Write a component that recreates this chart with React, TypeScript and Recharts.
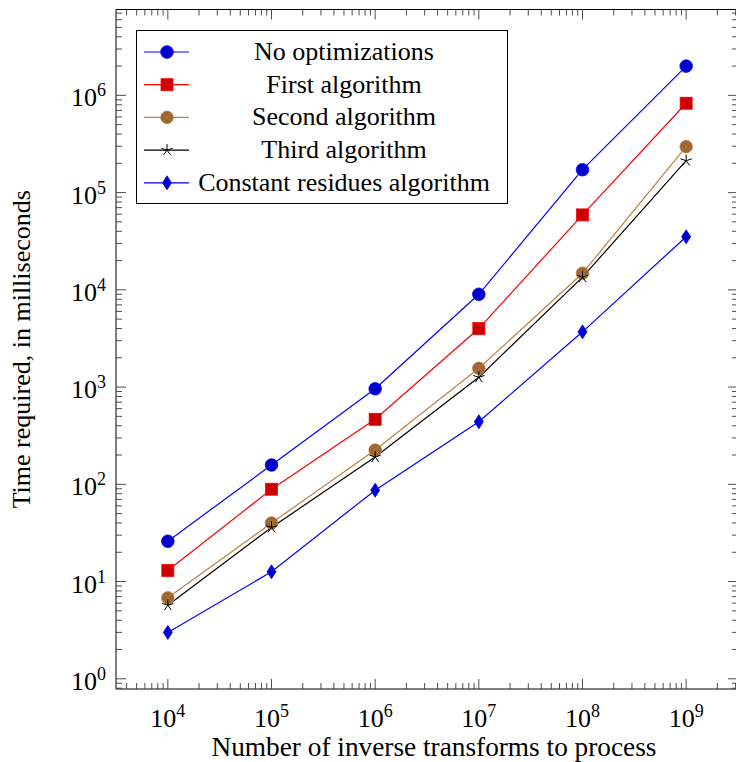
import React from 'react';
import { LineChart, Line, XAxis, YAxis } from 'recharts';

// transforms processed (x) and time in ms for each variant (y)
const transforms = [1e4, 1e5, 1e6, 1e7, 1e8, 1e9];
const noOptimizations = [26, 158, 960, 9000, 172000, 2000000];
const firstAlgorithm = [13, 89, 466, 4000, 59000, 830000];
const secondAlgorithm = [6.8, 40, 225, 1560, 14800, 297000];
const thirdAlgorithm = [5.7, 36, 191, 1260, 13500, 213000];
const constantResidues = [3, 12.6, 87, 440, 3700, 35200];

const xMajorTicks = [1e4, 1e5, 1e6, 1e7, 1e8, 1e9];
const yMajorTicks = [1, 10, 100, 1e3, 1e4, 1e5, 1e6];

const X_DOMAIN: [number, number] = [Math.pow(10, 3.5), Math.pow(10, 9.5)];
const Y_DOMAIN: [number, number] = [Math.pow(10, -0.105), Math.pow(10, 6.883)];

const FONT = "'Liberation Serif', 'Times New Roman', serif";
const TICK_COLOR = '#3a3a3a';

const series = [
  { key: 'noOpt', name: 'No optimizations', values: noOptimizations, line: '#0000ff', shape: 'circle' },
  { key: 'first', name: 'First algorithm', values: firstAlgorithm, line: '#ff0000', shape: 'square' },
  { key: 'second', name: 'Second algorithm', values: secondAlgorithm, line: '#bf8040', shape: 'otimes' },
  { key: 'third', name: 'Third algorithm', values: thirdAlgorithm, line: '#000000', shape: 'star' },
  { key: 'residues', name: 'Constant residues algorithm', values: constantResidues, line: '#0000ff', shape: 'diamond' },
];

const data = transforms.map((x, i) => {
  const row: Record<string, number> = { x };
  series.forEach((s) => (row[s.key] = s.values[i]));
  return row;
});

// minor ticks at 2..9 x 10^n inside a domain
function withMinor(domain: [number, number], majors: number[]) {
  const out: number[] = [...majors];
  const lo = Math.floor(Math.log10(domain[0]));
  const hi = Math.ceil(Math.log10(domain[1]));
  for (let d = lo; d <= hi; d++) {
    for (let m = 2; m <= 9; m++) {
      const v = m * Math.pow(10, d);
      if (v >= domain[0] && v <= domain[1]) out.push(v);
    }
  }
  return out.sort((a, b) => a - b);
}

const xTicks = withMinor(X_DOMAIN, xMajorTicks);
const yTicks = withMinor(Y_DOMAIN, yMajorTicks);

const isMajor = (v: number) => {
  const l = Math.log10(v);
  return Math.abs(l - Math.round(l)) < 1e-9;
};

function Marker({ shape, cx, cy }: { shape: string; cx: number; cy: number }) {
  switch (shape) {
    case 'circle':
      return <circle cx={cx} cy={cy} r={6.3} fill="#0000cc" stroke="#0000ff" strokeWidth={0.8} />;
    case 'square':
      return <rect x={cx - 6} y={cy - 6} width={12} height={12} fill="#cc0000" stroke="#ff0000" strokeWidth={0.8} />;
    case 'otimes':
      return (
        <g>
          <circle cx={cx} cy={cy} r={6.3} fill="#996633" stroke="#bf8040" strokeWidth={0.8} />
          <line x1={cx - 4.3} y1={cy - 4.3} x2={cx + 4.3} y2={cy + 4.3} stroke="#bf8040" strokeWidth={0.7} />
          <line x1={cx - 4.3} y1={cy + 4.3} x2={cx + 4.3} y2={cy - 4.3} stroke="#bf8040" strokeWidth={0.7} />
        </g>
      );
    case 'star': {
      const arms = [0, 1, 2, 3, 4].map((k) => {
        const a = (-90 + k * 72) * (Math.PI / 180);
        return (
          <line key={k} x1={cx} y1={cy} x2={cx + 6 * Math.cos(a)} y2={cy + 6 * Math.sin(a)} stroke="#000" strokeWidth={1} />
        );
      });
      return <g>{arms}</g>;
    }
    default:
      return (
        <polygon
          points={`${cx},${cy - 7} ${cx + 4.5},${cy} ${cx},${cy + 7} ${cx - 4.5},${cy}`}
          fill="#0000cc"
          stroke="#0000ff"
          strokeWidth={0.8}
        />
      );
  }
}

function PowerLabel({ x, y, exp, anchor }: { x: number; y: number; exp: number; anchor: 'middle' | 'end' }) {
  return (
    <text x={x} y={y} textAnchor={anchor} fontFamily={FONT} fontSize={26} fill="#000">
      10
      <tspan dy={-10} fontSize={18}>
        {exp}
      </tspan>
    </text>
  );
}

function XTick(props: any) {
  const { x, y, payload, side } = props;
  const v = payload.value;
  const major = isMajor(v);
  const len = major ? 10 : 6;
  const dir = side === 'bottom' ? -1 : 1;
  return (
    <g>
      <line x1={x} x2={x} y1={y} y2={y + dir * len} stroke={TICK_COLOR} strokeWidth={0.9} />
      {side === 'bottom' && major && (
        <PowerLabel x={x} y={y + 38} exp={Math.round(Math.log10(v))} anchor="middle" />
      )}
    </g>
  );
}

function YTick(props: any) {
  const { x, y, payload, side } = props;
  const v = payload.value;
  const major = isMajor(v);
  const len = major ? 10 : 6;
  const dir = side === 'left' ? 1 : -1;
  return (
    <g>
      <line x1={x} x2={x + dir * len} y1={y} y2={y} stroke={TICK_COLOR} strokeWidth={0.9} />
      {side === 'left' && major && (
        <PowerLabel x={x - 10} y={y + 11} exp={Math.round(Math.log10(v))} anchor="end" />
      )}
    </g>
  );
}

const xTitle = (props: any) => {
  const vb = props.viewBox;
  return (
    <text x={vb.x + vb.width / 2 + 7} y={756} textAnchor="middle" fontFamily={FONT} fontSize={27.3} fill="#000">
      Number of inverse transforms to process
    </text>
  );
};

const yTitle = (props: any) => {
  const vb = props.viewBox;
  const cy = vb.y + vb.height / 2;
  return (
    <text x={30} y={cy} transform={`rotate(-90, 30, ${cy})`} textAnchor="middle" fontFamily={FONT} fontSize={26} fill="#000">
      Time required, in milliseconds
    </text>
  );
};

function ChartLegend() {
  const rowY = (i: number) => 22 + i * 32.7;
  return (
    <svg
      width={372}
      height={174}
      style={{ position: 'absolute', left: 136, top: 30, background: '#fff' }}
    >
      <rect x={0.5} y={0.5} width={371} height={173} fill="#fff" stroke="#000" strokeWidth={1} />
      {series.map((s, i) => (
        <g key={s.key}>
          <line x1={8} x2={53} y1={rowY(i)} y2={rowY(i)} stroke={s.line} strokeWidth={1.2} />
          <Marker shape={s.shape} cx={31} cy={rowY(i)} />
          <text x={208} y={rowY(i) + 8} textAnchor="middle" fontFamily={FONT} fontSize={26} fill="#000">
            {s.name}
          </text>
        </g>
      ))}
    </svg>
  );
}

export default function App() {
  return (
    <div style={{ position: 'absolute', left: 0, top: 0, width: 736, height: 762, overflow: 'hidden', background: '#fff' }}>
      <LineChart width={740} height={762} data={data} margin={{ top: 8.5, right: 1, bottom: 0, left: 0 }}>
        <XAxis
          xAxisId="b"
          dataKey="x"
          type="number"
          scale="log"
          domain={X_DOMAIN}
          allowDataOverflow
          ticks={xTicks}
          interval={0}
          tickSize={0}
          tickMargin={0}
          height={73}
          stroke="#000"
          tick={<XTick side="bottom" />}
          label={xTitle}
        />
        <XAxis
          xAxisId="t"
          orientation="top"
          dataKey="x"
          type="number"
          scale="log"
          domain={X_DOMAIN}
          allowDataOverflow
          ticks={xTicks}
          interval={0}
          tickSize={0}
          tickMargin={0}
          height={1}
          stroke="#000"
          tick={<XTick side="top" />}
        />
        <YAxis
          yAxisId="l"
          type="number"
          scale="log"
          domain={Y_DOMAIN}
          allowDataOverflow
          ticks={yTicks}
          interval={0}
          tickSize={0}
          tickMargin={0}
          width={116}
          stroke="#000"
          tick={<YTick side="left" />}
          label={yTitle}
        />
        <YAxis
          yAxisId="r"
          orientation="right"
          type="number"
          scale="log"
          domain={Y_DOMAIN}
          allowDataOverflow
          ticks={yTicks}
          interval={0}
          tickSize={0}
          tickMargin={0}
          width={1}
          stroke="#000"
          tick={<YTick side="right" />}
        />
        {/* invisible series so the mirrored top/right axes get drawn */}
        <Line
          xAxisId="t"
          yAxisId="r"
          dataKey="noOpt"
          stroke="none"
          dot={false}
          activeDot={false}
          legendType="none"
          isAnimationActive={false}
        />
        {series.map((s) => (
          <Line
            key={s.key}
            xAxisId="b"
            yAxisId="l"
            type="linear"
            dataKey={s.key}
            name={s.name}
            stroke={s.line}
            strokeWidth={1.2}
            isAnimationActive={false}
            activeDot={false}
            dot={(p: any) => <Marker key={`${s.key}-${p.index}`} shape={s.shape} cx={p.cx} cy={p.cy} />}
          />
        ))}
      </LineChart>
      <ChartLegend />
    </div>
  );
}
